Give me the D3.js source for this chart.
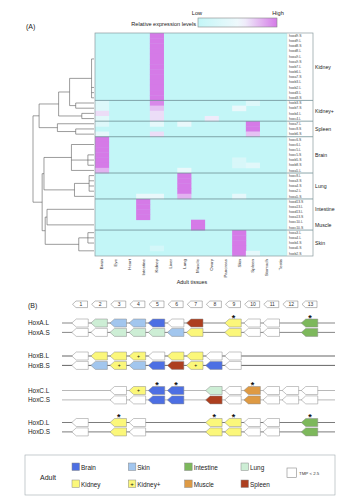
<!DOCTYPE html>
<html>
<head>
<meta charset="utf-8">
<script src="https://cdn.jsdelivr.net/npm/d3@7/dist/d3.min.js"></script>
<style>
  html, body { margin: 0; padding: 0; background: #fff; }
  svg { display: block; font-family: "Liberation Sans", Arial, sans-serif; }
</style>
</head>
<body>
<svg id="fig" width="348" height="500"></svg>
<script>
// ---------- Panel A data ----------
const tissues = ["Brain","Eye","Heart","Intestine","Kidney","Liver","Lung","Muscle","Ovary","Pancreas","Skin","Spleen","Stomach","Testis"];

const genes = [
  "hoxd9.S","hoxd9.L","hoxd8.S","hoxd8.L","hoxa9.L","hoxa9.S","hoxb7.L","hoxb6.L","hoxa7.S","hoxb3.L","hoxb2.L","hoxd3.L","hoxd3.S",
  "hoxb3.S","hoxb7.S","hoxb4.L","hoxc4.L",
  "hoxa7.L","hoxc8.S","hoxb6.S",
  "hoxc6.S","hoxc6.L","hoxc5.L","hoxc5.S","hoxb5.S","hoxb8.S","hoxa5.L",
  "hoxc8.L","hoxa3.S","hoxa4.S","hoxa2.L","hoxa5.S",
  "hoxd13.S","hoxa13.L","hoxd13.L","hoxa13.S",
  "hoxc10.L","hoxc10.S",
  "hoxa3.L","hoxa4.L","hoxb4.S","hoxa6.S","hoxb2.S"
];

const groupNames = ["Kidney","Kidney+","Spleen","Brain","Lung","Intestine","Muscle","Skin"];
const groupSizes = [13, 4, 3, 7, 5, 4, 2, 5];
const separatedAfter = ["Kidney","Kidney+","Spleen","Brain","Lung","Muscle"];

// relative expression, 0 = low, 1 = high; columns follow `tissues`
//               Br   Ey He In    Ki    Li Lu    Mu Ov   Pa Sk    Sp    St Te
const expression = [
  [0,    0, 0, 0,    1,    0, 0,    0, 0,   0, 0,    0,    0, 0],
  [0,    0, 0, 0,    1,    0, 0,    0, 0,   0, 0,    0,    0, 0],
  [0,    0, 0, 0,    1,    0, 0,    0, 0,   0, 0,    0,    0, 0],
  [0,    0, 0, 0,    1,    0, 0,    0, 0,   0, 0,    0,    0, 0],
  [0,    0, 0, 0,    1,    0, 0,    0, 0,   0, 0,    0,    0, 0],
  [0,    0, 0, 0,    1,    0, 0,    0, 0,   0, 0,    0,    0, 0],
  [0,    0, 0, 0,    1,    0, 0,    0, 0,   0, 0,    0,    0, 0],
  [0,    0, 0, 0,    1,    0, 0,    0, 0,   0, 0,    0,    0, 0],
  [0,    0, 0, 0,    1,    0, 0,    0, 0,   0, 0,    0,    0, 0],
  [0,    0, 0, 0,    1,    0, 0,    0, 0,   0, 0,    0,    0, 0],
  [0,    0, 0, 0,    1,    0, 0,    0, 0,   0, 0,    0,    0, 0],
  [0,    0, 0, 0,    1,    0, 0,    0, 0,   0, 0,    0,    0, 0],
  [0,    0, 0, 0,    1,    0, 0,    0, 0,   0, 0,    0,    0, 0],
  [0.3,  0, 0, 0,    0.95, 0, 0,    0, 0,   0, 0,    0.3,  0, 0],
  [0.3,  0, 0, 0,    0.75, 0, 0,    0, 0,   0, 0.45, 0,    0, 0],
  [0.65, 0, 0, 0,    0.65, 0, 0,    0, 0,   0, 0,    0,    0, 0],
  [0.35, 0, 0, 0,    0.65, 0, 0,    0, 0.6, 0, 0,    0,    0, 0],
  [0.3,  0, 0, 0,    0.4,  0, 0.45, 0, 0,   0, 0,    1,    0, 0],
  [0,    0, 0, 0,    0,    0, 0,    0, 0,   0, 0,    1,    0, 0],
  [0.4,  0, 0, 0,    0.65, 0, 0,    0, 0,   0, 0,    0.75, 0, 0],
  [1,    0, 0, 0,    0,    0, 0,    0, 0,   0, 0,    0,    0, 0],
  [1,    0, 0, 0,    0,    0, 0,    0, 0,   0, 0,    0,    0, 0],
  [1,    0, 0, 0,    0,    0, 0,    0, 0,   0, 0,    0,    0, 0],
  [1,    0, 0, 0,    0,    0, 0,    0, 0,   0, 0,    0,    0, 0],
  [1,    0, 0, 0,    0,    0, 0,    0, 0,   0, 0.25, 0,    0, 0],
  [1,    0, 0, 0,    0,    0, 0,    0, 0,   0, 0.25, 0.35, 0, 0],
  [0.8,  0, 0, 0,    0,    0, 0.45, 0, 0,   0, 0,    0,    0, 0],
  [0,    0, 0, 0,    0,    0, 1,    0, 0,   0, 0,    0,    0, 0],
  [0,    0, 0, 0,    0,    0, 1,    0, 0,   0, 0,    0,    0, 0],
  [0,    0, 0, 0,    0,    0, 1,    0, 0,   0, 0,    0,    0, 0],
  [0,    0, 0, 0,    0,    0, 1,    0, 0,   0, 0,    0,    0, 0],
  [0,    0, 0, 0.45, 0.45, 0, 0.8,  0, 0,   0, 0.4,  0,    0, 0],
  [0,    0, 0, 1,    0,    0, 0,    0, 0,   0, 0,    0,    0, 0],
  [0,    0, 0, 1,    0,    0, 0,    0, 0,   0, 0,    0,    0, 0],
  [0,    0, 0, 1,    0,    0, 0,    0, 0,   0, 0,    0,    0, 0],
  [0,    0, 0, 1,    0,    0, 0,    0, 0,   0, 0,    0,    0, 0],
  [0,    0, 0, 0,    0,    0, 0,    1, 0,   0, 0,    0,    0, 0],
  [0,    0, 0, 0,    0,    0, 0,    1, 0,   0, 0,    0,    0, 0],
  [0,    0, 0, 0,    0,    0, 0,    0, 0,   0, 1,    0,    0, 0],
  [0,    0, 0, 0,    0,    0, 0,    0, 0,   0, 1,    0,    0, 0],
  [0,    0, 0, 0,    0,    0, 0,    0, 0,   0, 1,    0,    0, 0],
  [0,    0, 0, 0,    0.2,  0, 0,    0, 0,   0, 1,    0,    0, 0],
  [0,    0, 0, 0,    0,    0, 0,    0, 0,   0, 1,    0.4,  0, 0]
];

// row clustering: leaves are row indices, h is the merge height (0..1)
const dendrogram = {h: 1.0, c: [
  {h: 0.9, c: [
    {h: 0.58, c: [
      {h: 0.4, c: [
        {h: 0.04, c: [{h: 0, c: [0,1,2,3,4,5,6,7,8,9]}, 10, 11, 12]},
        {h: 0.3, c: [13, 14]}
      ]},
      {h: 0.2, c: [15, 16]}
    ]},
    {h: 0.6, c: [17, {h: 0.3, c: [18, 19]}]}
  ]},
  {h: 0.85, c: [
    {h: 0.82, c: [
      {h: 0.37, c: [{h: 0, c: [20, 21, 22]}, {h: 0.1, c: [23, 24, 25]}, 26]},
      {h: 0.32, c: [{h: 0.08, c: [27, 28, 29, 30]}, 31]}
    ]},
    {h: 0.8, c: [
      {h: 0.77, c: [{h: 0, c: [32, 33, 34, 35]}, {h: 0, c: [36, 37]}]},
      {h: 0.25, c: [{h: 0.1, c: [38, 39, 40]}, {h: 0, c: [41, 42]}]}
    ]}
  ]}
]};

// ---------- Panel B data ----------
const paralogs = ["HoxA.L","HoxA.S","HoxB.L","HoxB.S","HoxC.L","HoxC.S","HoxD.L","HoxD.S"];
const paralogGroups = [1, 2, 3, 4, 5, 6, 7, 8, 9, 10, 11, 12, 13];
// tissue of highest expression per paralog group 1..13 ("none" = TMP < 2.5, null = absent)
const clusterTissues = [
  ["none","Lung","Skin","Skin","Brain","none","Spleen",null,"Kidney","none","none",null,"Intestine"],
  ["none","none","Lung","Lung","Lung","Skin","Kidney",null,"Kidney","none","none",null,"Intestine"],
  ["none","Kidney","Kidney","Kidney+","none","Kidney","Kidney","none","none",null,null,null,null],
  ["none","Skin","Kidney+","Skin","Brain","Spleen","Kidney+","Brain","none",null,null,null,null],
  [null,null,"none","Kidney+","Brain","Brain",null,"Lung","none","Muscle","none","none","none"],
  [null,null,"none","none","Brain","Brain",null,"Spleen","none","Muscle","none","none","none"],
  ["none",null,"Kidney","none",null,null,null,"Kidney","Kidney","none","none",null,"Intestine"],
  ["none",null,"Kidney","none",null,null,null,"Kidney","Kidney","none","none",null,"Intestine"]
];
// paralog groups marked with an asterisk, per cluster A, B, C, D
const starred = [[9, 13], [], [5, 6, 10], [3, 8, 9, 13]];

const legendRow1 = ["Brain","Skin","Intestine","Lung"];
const legendRow2 = ["Kidney","Kidney+","Muscle","Spleen"];

const tissueColor = {
  Brain: "#4d6fe3", Skin: "#a2c6ee", Intestine: "#7db85c", Lung: "#cdeed5",
  Kidney: "#fbf77a", "Kidney+": "#fbf77a", Muscle: "#de9a44", Spleen: "#ad3f1f", none: "#ffffff"
};

// ---------- drawing ----------
const svg = d3.select("#fig");

// Panel A layout
const hmLeft = 95, hmRight = 287, labelRight = 313, hmTop = 33, hmBottom = 256;

const x = d3.scaleBand().domain(d3.range(tissues.length)).range([hmLeft, hmRight]);
const y = d3.scaleBand().domain(d3.range(genes.length)).range([hmTop, hmBottom]);
const color = d3.scaleLinear().domain([0, 0.55, 1]).range(["#c3f6f7", "#f2f9fc", "#d57ae7"]).clamp(true);

svg.append("text").attr("x", 26).attr("y", 29).attr("font-size", 7).attr("fill", "#222").text("(A)");

// colour key
const defs = svg.append("defs");
const grad = defs.append("linearGradient").attr("id", "keyGrad");
d3.range(0, 1.0001, 0.1).forEach(t => grad.append("stop").attr("offset", t).attr("stop-color", color(t)));
svg.append("rect").attr("x", 198).attr("y", 18).attr("width", 79).attr("height", 9)
  .attr("fill", "url(#keyGrad)").attr("stroke", "#888").attr("stroke-width", 0.6);
svg.append("text").attr("x", 196).attr("y", 25.5).attr("text-anchor", "end").attr("font-size", 5.6).attr("fill", "#222").text("Relative expression levels");
svg.append("text").attr("x", 197).attr("y", 15).attr("text-anchor", "middle").attr("font-size", 5.6).attr("fill", "#222").text("Low");
svg.append("text").attr("x", 278).attr("y", 15).attr("text-anchor", "middle").attr("font-size", 5.6).attr("fill", "#222").text("High");

// cells, over a low-level backdrop so seams between rows do not show
svg.append("rect").attr("x", hmLeft).attr("y", hmTop).attr("width", hmRight - hmLeft).attr("height", hmBottom - hmTop)
  .attr("fill", color(0));
const cells = [];
expression.forEach((row, r) => row.forEach((v, c) => { if (v > 0) cells.push({r, c, v}); }));
svg.append("g").selectAll("rect").data(cells).join("rect")
  .attr("x", d => x(d.c)).attr("y", d => y(d.r))
  .attr("width", x.bandwidth() + 0.4).attr("height", y.bandwidth() + 0.4)
  .attr("fill", d => color(d.v));

// gene label strip
svg.append("rect").attr("x", hmRight).attr("y", hmTop).attr("width", labelRight - hmRight).attr("height", hmBottom - hmTop).attr("fill", "#fff");
svg.append("g").selectAll("text").data(genes).join("text")
  .attr("x", hmRight + 2).attr("y", (d, i) => y(i) + y.bandwidth() / 2 + 1.2)
  .attr("font-size", 3.4).attr("fill", "#444").text(d => d);

// group separators and labels
let start = 0;
const groupBounds = groupNames.map((g, i) => { const s = start; start += groupSizes[i]; return {g, s, e: start}; });
groupBounds.forEach(b => {
  const y0 = y(b.s), y1 = y(b.e - 1) + y.bandwidth();
  if (separatedAfter.includes(b.g)) {
    svg.append("line").attr("x1", hmLeft).attr("x2", labelRight).attr("y1", y1).attr("y2", y1)
      .attr("stroke", "#6f8f96").attr("stroke-width", 0.8);
  }
  svg.append("text").attr("x", labelRight + 2).attr("y", (y0 + y1) / 2 + 2)
    .attr("font-size", 5.2).attr("fill", "#222").text(b.g);
});
svg.append("rect").attr("x", hmLeft).attr("y", hmTop).attr("width", labelRight - hmLeft).attr("height", hmBottom - hmTop)
  .attr("fill", "none").attr("stroke", "#8a9a9e").attr("stroke-width", 0.7);
svg.append("line").attr("x1", hmRight).attr("x2", hmRight).attr("y1", hmTop).attr("y2", hmBottom).attr("stroke", "#c8d4d6").attr("stroke-width", 0.4);

// column labels
svg.append("g").selectAll("text").data(tissues).join("text")
  .attr("transform", (d, i) => `translate(${x(i) + x.bandwidth() / 2 + 1.5},259) rotate(-90)`)
  .attr("text-anchor", "end").attr("font-size", 4.4).attr("fill", "#333").text(d => d);
svg.append("text").attr("x", 192).attr("y", 284).attr("text-anchor", "middle").attr("font-size", 5.4).attr("fill", "#222").text("Adult tissues");

// dendrogram
const xd = d3.scaleLinear().domain([0, 1]).range([hmLeft - 1, 33]);
const links = [];
function place(node) {
  if (typeof node === "number") return {x: xd(0), y: y(node) + y.bandwidth() / 2};
  const kids = node.c.map(place);
  const nx = xd(node.h);
  const top = kids[0].y, bot = kids[kids.length - 1].y;
  if (node.h > 0) {
    kids.forEach(k => links.push([nx, k.y, k.x, k.y]));
    links.push([nx, top, nx, bot]);
  }
  return {x: nx, y: (top + bot) / 2};
}
place(dendrogram);
svg.append("g").selectAll("line").data(links).join("line")
  .attr("x1", d => d[0]).attr("y1", d => d[1]).attr("x2", d => d[2]).attr("y2", d => d[3])
  .attr("stroke", "#5a5a5a").attr("stroke-width", 0.6);

// ---------- Panel B ----------
svg.append("text").attr("x", 28).attr("y", 307.5).attr("font-size", 7).attr("fill", "#222").text("(B)");

const sx = d3.scaleLinear().domain([1, 13]).range([80, 309.5]);
const clusterY = d3.scaleOrdinal().domain([0, 1, 2, 3]).range([323, 356, 390.5, 422.5]);
const pairGap = 9.4;

function arrowPath(cx, cy, w, h, tip) {
  const x0 = cx - w / 2, x1 = cx + w / 2;
  return `M${x0},${cy} L${x0 + tip},${cy - h / 2} L${x1},${cy - h / 2} L${x1},${cy + h / 2} L${x0 + tip},${cy + h / 2} Z`;
}

// paralog group boxes
const boxes = svg.append("g");
paralogGroups.forEach(n => {
  boxes.append("path").attr("d", arrowPath(sx(n), 304.3, 15, 6.6, 3.5))
    .attr("fill", "#fff").attr("stroke", "#777").attr("stroke-width", 0.5);
  boxes.append("text").attr("x", sx(n) + 1).attr("y", 306.2).attr("text-anchor", "middle")
    .attr("font-size", 5).attr("fill", "#333").text(n);
});

const lineColors = ["#555", "#222", "#999", "#444"];
paralogs.forEach((name, i) => {
  const cl = Math.floor(i / 2);
  const cy = clusterY(cl) + (i % 2) * pairGap;
  svg.append("text").attr("x", 28).attr("y", cy + 2.3).attr("font-size", 6.4).attr("fill", "#222").text(name);
  svg.append("line").attr("x1", 62).attr("x2", 335).attr("y1", cy).attr("y2", cy)
    .attr("stroke", lineColors[cl]).attr("stroke-width", 0.7);
  const g = svg.append("g");
  clusterTissues[i].forEach((t, k) => {
    if (t === null) return;
    const n = paralogGroups[k];
    g.append("path").attr("d", arrowPath(sx(n), cy, 16.5, 8, 4.5))
      .attr("fill", tissueColor[t]).attr("stroke", "#8a8a8a").attr("stroke-width", 0.5);
    if (t === "Kidney+") {
      g.append("text").attr("x", sx(n) + 1).attr("y", cy + 1.8).attr("text-anchor", "middle")
        .attr("font-size", 5).attr("fill", "#111").text("+");
    }
  });
});

// asterisks
starred.forEach((list, cl) => {
  list.forEach(n => {
    svg.append("text").attr("x", sx(n) + 0.5).attr("y", clusterY(cl) - 2.5).attr("text-anchor", "middle")
      .attr("font-size", 9).attr("font-weight", "bold").attr("fill", "#111").text("*");
  });
});

// ---------- Legend ----------
svg.append("rect").attr("x", 25).attr("y", 455).attr("width", 310).attr("height", 40)
  .attr("fill", "#fff").attr("stroke", "#a0aab0").attr("stroke-width", 0.6);
svg.append("text").attr("x", 40).attr("y", 479.5).attr("font-size", 7).attr("fill", "#222").text("Adult");
const legX = d3.scaleLinear().domain([0, 3]).range([72, 241]);
[[legendRow1, 463], [legendRow2, 480]].forEach(([items, ly]) => {
  items.forEach((t, k) => {
    const lx = legX(k);
    svg.append("rect").attr("x", lx).attr("y", ly).attr("width", 7.5).attr("height", 7.5)
      .attr("fill", tissueColor[t]).attr("stroke", "#888").attr("stroke-width", 0.5);
    if (t === "Kidney+") {
      svg.append("text").attr("x", lx + 3.75).attr("y", ly + 6).attr("text-anchor", "middle")
        .attr("font-size", 6).attr("fill", "#111").text("+");
    }
    svg.append("text").attr("x", lx + 9).attr("y", ly + 6.5).attr("font-size", 6.4).attr("fill", "#222").text(t);
  });
});
svg.append("rect").attr("x", 287).attr("y", 468).attr("width", 9.5).attr("height", 9.5)
  .attr("fill", "#fff").attr("stroke", "#888").attr("stroke-width", 0.6);
svg.append("text").attr("x", 299).attr("y", 475).attr("font-size", 4.4).attr("fill", "#333").text("TMP < 2.5");
</script>
</body>
</html>
